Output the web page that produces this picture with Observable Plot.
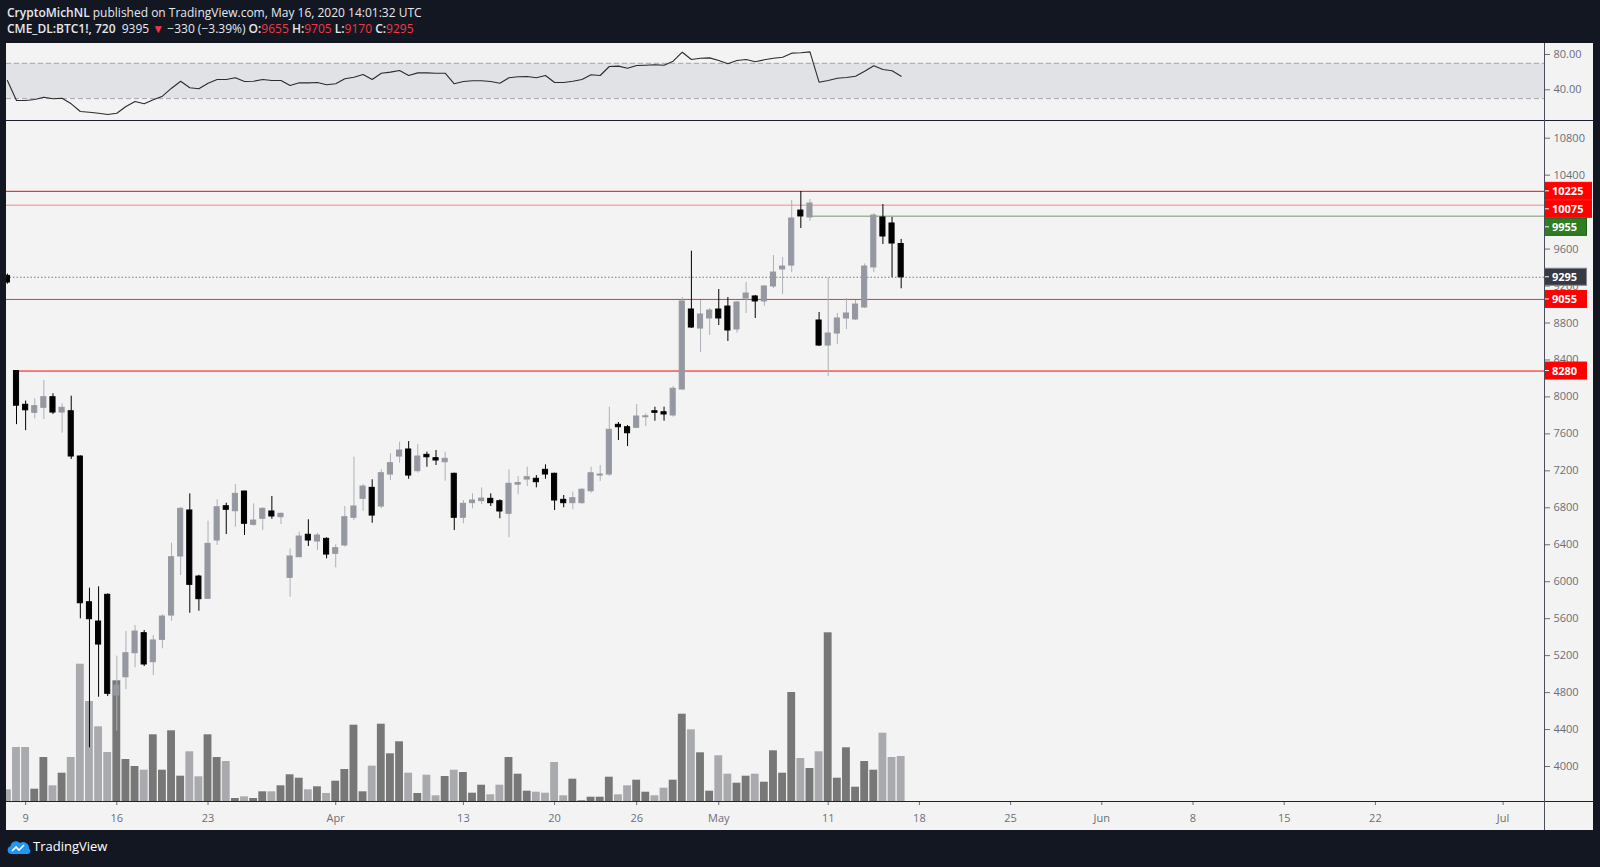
<!DOCTYPE html>
<html><head><meta charset="utf-8">
<script src="https://cdn.jsdelivr.net/npm/d3@7"></script>
<script src="https://cdn.jsdelivr.net/npm/@observablehq/plot@0.6"></script>
<style>
html,body{margin:0;padding:0;background:#131722;}
#wrap{position:relative;width:1600px;height:867px;overflow:hidden;font-family:"Open Sans",sans-serif;}
.hdr{position:absolute;left:7px;color:#e6e8ee;font-size:12px;white-space:nowrap;line-height:16px;}
.hdr b{font-weight:600;}
.r{color:#f23645;}
.abs{position:absolute;}
</style></head><body>
<div id="wrap">
  <div class="hdr" style="top:5px"><b>CryptoMichNL</b> published on TradingView.com, May 16, 2020 14:01:32 UTC</div>
  <div class="hdr" style="top:21px"><b>CME_DL:BTC1!, 720</b>&nbsp; 9395 <span class="r">▼</span> −330 (−3.39%) <b>O:</b><span class="r">9655</span> <b>H:</b><span class="r">9705</span> <b>L:</b><span class="r">9170</span> <b>C:</b><span class="r">9295</span></div>
  <div class="abs" style="left:6px;top:43px;width:1587px;height:787px;background:#f3f3f3"></div>
  <div id="rsi" class="abs" style="left:6px;top:43px;width:1588px;height:78px"></div>
  <div id="vol" class="abs" style="left:6px;top:121px;width:1588px;height:709px"></div>
  <div id="main" class="abs" style="left:6px;top:121px;width:1588px;height:709px"></div>
  <div class="abs" style="left:6px;top:120px;width:1587px;height:1.2px;background:#1c2030"></div>
  <div class="abs" style="left:6px;top:801px;width:1587px;height:1.2px;background:#1c2030"></div>
  <div class="abs" style="left:1543.5px;top:43px;width:1px;height:787px;background:#4a4e5a"></div>
  <svg class="abs" style="left:7px;top:839px" width="24" height="16" viewBox="0 0 24 16">
    <path d="M4 15 A4 4 0 0 1 3.5 7.2 A5.5 5.5 0 0 1 13 4 A6 6 0 0 1 22 9.5 A3 3 0 0 1 21 15 Z" fill="#2196f3"/>
    <polyline points="5,12 9,8 12,11 17,6" stroke="#fff" stroke-width="1.6" fill="none"/>
  </svg>
  <div class="abs" style="left:33px;top:838px;color:#ffffff;font-size:13px;line-height:17px;font-family:'Open Sans',sans-serif">TradingView</div>
</div>
<script>
// ---------- data (12h bars, first bar number = -1) ----------
const firstBar = -1;
const opens  = [9310,
 8280,7915,7828,7882,7997,7831,7845,7355,5778,5569,
 5858,4768,4966,5226,5443,5129,5371,5634,6273,6771,
 6056,5815,6446,6817,6763,6976,6616,6681,6760,6698,
 6042,6265,6508,6435,6464,6302,6392,6692,6897,7016,
 6814,7160,7355,7431,7196,7373,7337,7293,7168,6692,
 6850,6872,6897,6871,6735,7050,7106,7114,7211,7168,
 6886,6850,6850,6979,7149,7160,7698,7672,7666,7780,
 7845,7834,7799,8080,8946,8740,8849,8946,8978,8730,
 9065,9087,9033,9195,9379,9422,10017,9942,8827,8556,
 8686,8849,8838,8968,9401,9942,9877,9655];
const highs  = [9330,
 8285,7955,7980,8178,8034,7925,8008,7362,5930,5945,
 5870,5194,5464,5526,5472,5418,5642,6417,6800,6951,
 6070,6655,6886,6850,7052,6980,6843,6800,6922,6742,
 6356,6536,6670,6525,6475,6400,6814,7347,7052,7103,
 7211,7384,7510,7517,7485,7402,7420,7402,7175,6879,
 6951,7016,6951,6886,7211,7139,7239,7149,7265,7175,
 6933,6969,7010,7239,7258,7889,7723,7690,7918,7817,
 7889,7889,8113,9076,9577,9043,8957,9162,9076,9035,
 9238,9098,9206,9530,9509,10126,10223,10137,8914,9292,
 8903,9065,9043,9440,9985,10082,9942,9705];
const lows   = [9220,
 7700,7635,7763,7755,7810,7607,7323,5598,4202,4750,
 4757,4382,4830,5068,5082,4985,5274,5572,6067,5659,
 5681,5810,6392,6511,6590,6500,6600,6554,6676,6619,
 5832,6265,6381,6338,6248,6150,6374,6662,6763,6633,
 6789,7095,7283,7109,7174,7239,7258,7088,6554,6627,
 6789,6835,6814,6681,6475,6940,7030,7016,7109,6771,
 6800,6778,6840,6958,7085,7139,7528,7463,7660,7680,
 7737,7737,7780,8075,8740,8481,8665,8773,8600,8690,
 8903,8849,8982,9173,9108,9346,9823,9898,8545,8221,
 8567,8730,8825,8955,9346,9650,9292,9170];
const closes = [9238,
 7905,7855,7900,7997,7831,7882,7355,5767,5594,5320,
 4787,4876,5226,5461,5104,5364,5623,6265,6789,5966,
 5811,6410,6806,6778,6951,6627,6662,6789,6706,6735,
 6273,6489,6446,6500,6294,6363,6698,6814,7030,6716,
 7174,7283,7420,7149,7355,7347,7312,7330,6692,6843,
 6879,6900,6850,6760,7060,7068,7131,7077,7160,6879,
 6850,6904,6995,7174,7160,7644,7672,7607,7788,7790,
 7828,7810,8088,9033,8751,8892,8935,8849,8719,9022,
 9119,9033,9195,9346,9411,9931,9953,10093,8556,8686,
 8849,8903,9000,9411,9963,9736,9660,9295];
// volume (relative units)
const volumes = [127,
 550,550,133,450,167,293,450,1383,1010,757,
 500,1217,430,360,323,677,323,717,263,507,
 257,677,450,410,40,57,40,107,107,167,
 277,243,127,157,90,213,330,773,107,363,
 783,487,607,293,90,273,67,260,323,300,
 93,173,77,173,450,283,113,103,93,400,
 67,233,17,53,53,253,77,167,223,103,
 67,143,223,883,727,497,113,467,283,193,
 263,283,203,517,293,1100,440,340,507,1697,
 243,547,153,410,323,693,450,460];
const rsiValues = [50.5,
 27.9,27.9,29.0,31.6,29.8,30.5,24.1,15.4,14.6,13.5,
 12.0,13.5,21.1,26.7,24.1,28.7,32.8,41.8,49.7,42.3,
 41.1,47.5,51.7,51.7,53.6,49.4,49.7,51.7,50.5,50.5,
 44.9,47.9,47.9,48.2,45.7,46.8,52.5,54.3,57.3,51.7,
 58.8,60.0,61.9,56.2,59.2,59.2,58.8,58.8,46.8,49.4,
 50.2,50.2,49.4,47.5,53.6,54.8,55.1,53.6,56.2,48.3,
 48.3,49.7,51.7,57.0,56.2,66.4,66.8,64.5,67.5,67.9,
 68.3,67.9,72.4,82.6,74.3,75.8,76.2,73.2,69.5,73.2,
 74.3,71.7,74.0,75.8,76.9,81.5,81.9,83.0,48.6,50.5,
 53.1,53.9,55.4,61.0,67.2,63.0,61.5,55.4];

const tickBars   = [1,11,21,35,49,59,68,77,89,99,109,119,129,139,149,163];
const tickLabels = ["9","16","23","Apr","13","20","26","May","11","18","25","Jun","8","15","22","Jul"];
const priceTicks = [4000,4400,4800,5200,5600,6000,6400,6800,7200,7600,8000,8400,8800,9200,9600,10000,10400,10800];
const rsiTicks   = [40, 80];
const rsiBand    = [{lo: 30, hi: 70}];

const levelPrices   = [10225, 10075, 9955, 9055, 8280];
const levelStartBar = [null, null, 87, null, 0];
const lastClose = 9295;

// ---------- styles / layout ----------
const W = 1588, MR = 50;
const xDomain = [-1.0965, 167.54];
const UP = "#9598a1", UPWICK = "#adb0b7", DOWN = "#000000";
const VOL_UP = "#777777", VOL_DOWN = "#a9aaae";
const AXIS_TEXT = "#6b6e79";
const LEVEL_STROKE = ["#ff0000", "#ff8585", "#9fb69b", "#ff2a2a", "#ff0000"];
const LEVEL_WIDTH  = [1, 1, 1.5, 1, 1];
const LEVEL_BOX    = ["#ff0000", "#ff0000", "#2e7d22", "#ff0000", "#ff0000"];
const LEVEL_BOXSTROKE = ["#ff0000", "#ff0000", "#1f5e15", "#ff0000", "#ff0000"];
const font = "'Open Sans', sans-serif";

const bars = opens.map((o, k) => ({
  bar: firstBar + k, open: o, high: highs[k], low: lows[k], close: closes[k],
  volume: volumes[k], rsi: rsiValues[k]
}));
const isUp = d => d.close >= d.open;
const labelMap = new Map(tickBars.map((b, i) => [b, tickLabels[i]]));
const levels = levelPrices.map((p, i) => ({price: p, start: levelStartBar[i], i}));

// ---------- RSI pane ----------
const rsiPlot = Plot.plot({
  width: W, height: 78, marginLeft: 0, marginRight: MR, marginTop: 0, marginBottom: 0,
  style: {background: "transparent", fontFamily: font, color: AXIS_TEXT},
  x: {domain: xDomain, axis: null},
  y: {domain: [4.08, 92.46]},
  marks: [
    Plot.rect(rsiBand, {y1: "lo", y2: "hi", fill: "#e1e2e6"}),
    Plot.ruleY([30, 70], {stroke: "#a3a6ae", strokeDasharray: "5,3", strokeWidth: 1}),
    Plot.line(bars, {x: "bar", y: "rsi", stroke: "#2b2b2b", strokeWidth: 1.1, clip: true}),
    Plot.axisY({anchor: "right", ticks: rsiTicks, tickFormat: d => d.toFixed(2), tickSize: 5, tickPadding: 4, fontSize: 11, label: null})
  ]
});
document.getElementById("rsi").appendChild(rsiPlot);

// ---------- volume (behind candles) ----------
const volPlot = Plot.plot({
  width: W, height: 709, marginLeft: 0, marginRight: MR, marginTop: 0, marginBottom: 28,
  style: {background: "transparent", fontFamily: font},
  x: {domain: xDomain, axis: null},
  y: {domain: [0, 6810], axis: null},
  color: {type: "identity"},
  marks: [
    Plot.rectY(bars, {x1: d => d.bar - 0.43, x2: d => d.bar + 0.43, y: "volume",
      fill: d => isUp(d) ? VOL_UP : VOL_DOWN, clip: true})
  ]
});
document.getElementById("vol").appendChild(volPlot);

// ---------- price pane ----------
const main = Plot.plot({
  width: W, height: 709, marginLeft: 0, marginRight: MR, marginTop: 0, marginBottom: 28,
  style: {background: "transparent", fontFamily: font, color: AXIS_TEXT},
  x: {domain: xDomain},
  y: {domain: [3610.6, 10980.7]},
  color: {type: "identity"},
  marks: [
    Plot.ruleY(levels, {y: "price", x1: d => d.start == null ? xDomain[0] : d.start, x2: () => xDomain[1],
      stroke: d => LEVEL_STROKE[d.i], strokeWidth: d => LEVEL_WIDTH[d.i]}),
    Plot.ruleY([lastClose], {stroke: "#777a83", strokeDasharray: "1.5,2", strokeWidth: 1}),
    Plot.ruleX(bars, {x: "bar", y1: "low", y2: "high", stroke: d => isUp(d) ? UPWICK : DOWN, strokeWidth: 1, clip: true}),
    Plot.rect(bars, {x1: d => d.bar - 0.28, x2: d => d.bar + 0.28, y1: "open", y2: "close",
      fill: d => isUp(d) ? UP : DOWN, stroke: d => isUp(d) ? UP : DOWN, strokeWidth: 1, clip: true}),
    Plot.axisY({anchor: "right", ticks: priceTicks, tickFormat: d => String(d), tickSize: 5, tickPadding: 4, fontSize: 11, label: null}),
    Plot.axisX({ticks: tickBars, tickFormat: d => labelMap.get(d), tickSize: 3, tickPadding: 9, fontSize: 11, label: null})
  ]
});
document.getElementById("main").appendChild(main);

// price label boxes on the right axis, positioned through the y scale
const yScale = main.scale("y");
const frameRight = W - MR;
const boxes = levels.map(l => ({price: l.price, fill: LEVEL_BOX[l.i], stroke: LEVEL_BOXSTROKE[l.i]}))
  .concat([{price: lastClose, fill: "#363a45", stroke: "#80838c"}])
  .sort((a, b) => b.price - a.price);
let prevBottom = -Infinity;
const BH = 17;
const placed = [];
for (const b of boxes) {
  const yc = yScale.apply(b.price);
  let top = yc - BH / 2;
  if (top < prevBottom + 1) top = prevBottom + 1;
  prevBottom = top + BH;
  placed.push({...b, top});
}
// hide axis tick labels that sit entirely under a label box (as the reference does)
const svgSel = d3.select(main);
svgSel.selectAll("text").each(function() {
  const el = this;
  if (!/^\d{4,5}$/.test(el.textContent)) return;
  const bb = el.getBBox();
  if (bb.x < frameRight) return;
  const cy = bb.y + bb.height / 2;
  if (placed.some(p => cy >= p.top && cy <= p.top + BH)) el.remove();
});
const g = svgSel.append("g").attr("text-anchor", "start");
for (const b of placed) {
  const w = String(b.price).length >= 5 ? 47 : 42;
  g.append("rect").attr("x", frameRight + 0.5).attr("y", b.top).attr("width", w).attr("height", BH)
    .attr("fill", b.fill).attr("stroke", b.stroke).attr("stroke-width", 1);
  g.append("line").attr("x1", frameRight).attr("x2", frameRight + 5)
    .attr("y1", b.top + BH / 2).attr("y2", b.top + BH / 2).attr("stroke", "#ffffff");
  g.append("text").attr("x", frameRight + 8).attr("y", b.top + BH / 2).attr("dy", "0.36em")
    .attr("text-anchor", "start")
    .attr("fill", "#ffffff").attr("font-weight", 700).attr("font-size", 11)
    .attr("font-family", font).text(b.price);
}
</script>
</body></html>
